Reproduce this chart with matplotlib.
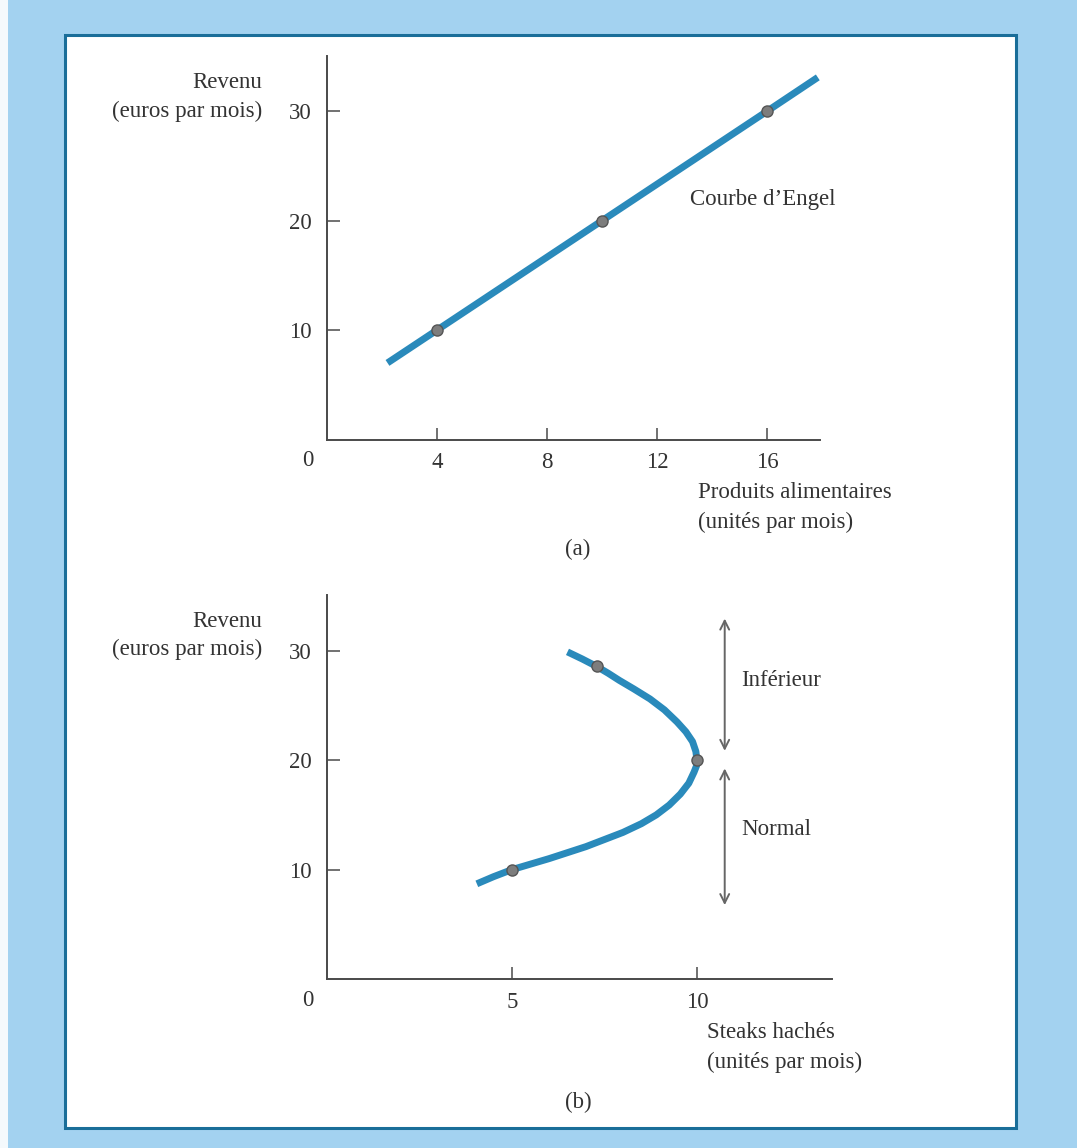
# Courbes d'Engel : (a) produits alimentaires, (b) steaks hachés
import matplotlib.pyplot as plt
from matplotlib.patches import Rectangle

# --- données ---
engel_x = [2.2, 4, 10, 16, 17.85]
engel_y = [7.0, 10, 20, 30, 33.1]
engel_pts_x = [4, 10, 16]
engel_pts_y = [10, 20, 30]

# courbe en C des steaks hachés
steak_x = [4.05, 4.5, 5.0, 5.5, 6.0, 6.5, 7.0, 7.5, 8.0, 8.5, 8.9, 9.25, 9.55,
           9.78, 9.92, 9.99, 10.0, 9.97, 9.88, 9.7, 9.46, 9.12, 8.73, 8.3, 7.9,
           7.6, 7.3, 6.9, 6.5]
steak_y = [8.7, 9.35, 10.0, 10.5, 11.0, 11.55, 12.1, 12.75, 13.4, 14.2, 15.0, 15.9,
           16.9, 17.9, 18.9, 19.5, 20.0, 20.8, 21.7, 22.6, 23.5, 24.6, 25.6, 26.5,
           27.3, 27.95, 28.55, 29.25, 29.9]
steak_pts_x = [5, 10, 7.3]
steak_pts_y = [10, 20, 28.6]

a_xticks = [4, 8, 12, 16]
b_xticks = [5, 10]
yticks = [10, 20, 30]

W, H = 1077, 1148
CURVE = '#2a8abb'
TXT = '#333333'
AXC = '#4a4a4a'

plt.rcParams['font.family'] = ['Liberation Serif', 'DejaVu Serif']
plt.rcParams['font.size'] = 16.5

fig = plt.figure(figsize=(W / 100, H / 100), dpi=100)
fig.patch.set_facecolor('#a3d2f0')
fig.patches.append(Rectangle((0, 0), 8 / W, 1, transform=fig.transFigure,
                             facecolor='#f4f9fc', edgecolor='none', zorder=-10))
fig.patches.append(Rectangle((65 / W, 1 - 1128 / H), (1016 - 65) / W, (1128 - 35) / H,
                             transform=fig.transFigure, facecolor='white',
                             edgecolor='#1a6e99', linewidth=2.2, zorder=-10))


def px(x, y):
    # position en pixels -> fraction de figure
    return x / W, 1 - y / H


def style_axes(ax, xmax, xticks):
    ax.set_facecolor('none')
    ax.set_xlim(0, xmax)
    ax.set_ylim(0, 35.1)
    for s in ['top', 'right']:
        ax.spines[s].set_visible(False)
    for s in ['left', 'bottom']:
        ax.spines[s].set_color(AXC)
        ax.spines[s].set_linewidth(1.4)
    ax.set_xticks(xticks)
    ax.set_yticks(yticks)
    ax.tick_params(axis='both', direction='in', length=9, width=1.1, color=AXC,
                   labelcolor=TXT, labelsize=16.5)
    ax.tick_params(axis='y', pad=11)
    ax.tick_params(axis='x', pad=9)
    ax.annotate('0', (0, 0), xytext=(-19, -21), textcoords='offset pixels',
                ha='center', va='center', color=TXT, fontsize=16.5,
                annotation_clip=False)


# --- (a) ---
ax1 = fig.add_axes([327 / W, 1 - 439.5 / H, 493 / W, 384 / H])
style_axes(ax1, 17.93, a_xticks)
ax1.plot(engel_x, engel_y, color=CURVE, lw=5, solid_capstyle='butt', zorder=3)
ax1.plot(engel_pts_x, engel_pts_y, 'o', ms=8, mfc='#7d7d7d', mec='#555555', mew=1, zorder=4)
ax1.text(690 / W, 1 - 200 / H, 'Courbe d’Engel', transform=fig.transFigure,
         ha='left', va='center', color=TXT)

fig.text(*px(262, 83), 'Revenu', ha='right', va='center', color=TXT)
fig.text(*px(262, 111), '(euros par mois)', ha='right', va='center', color=TXT)
fig.text(*px(698, 493), 'Produits alimentaires', ha='left', va='center', color=TXT)
fig.text(*px(698, 522), '(unités par mois)', ha='left', va='center', color=TXT)
fig.text(*px(578, 549), '(a)', ha='center', va='center', color=TXT)

# --- (b) ---
ax2 = fig.add_axes([327 / W, 1 - 979 / H, 505 / W, 384 / H])
style_axes(ax2, 13.65, b_xticks)
ax2.plot(steak_x, steak_y, color=CURVE, lw=5, solid_capstyle='butt',
         solid_joinstyle='round', zorder=3)
ax2.plot(steak_pts_x, steak_pts_y, 'o', ms=8, mfc='#7d7d7d', mec='#555555', mew=1, zorder=4)

arrow_x = 10.75
ax2.annotate('', xy=(arrow_x, 33.2), xytext=(arrow_x, 20.6),
             arrowprops=dict(arrowstyle='<->', color='#666666', lw=1.4, mutation_scale=16))
ax2.annotate('', xy=(arrow_x, 19.5), xytext=(arrow_x, 6.5),
             arrowprops=dict(arrowstyle='<->', color='#666666', lw=1.4, mutation_scale=16))
ax2.text(11.2, 27.3, 'Inférieur', ha='left', va='center', color=TXT, fontsize=16.5)
ax2.text(11.2, 13.7, 'Normal', ha='left', va='center', color=TXT, fontsize=16.5)

fig.text(*px(262, 621), 'Revenu', ha='right', va='center', color=TXT)
fig.text(*px(262, 649), '(euros par mois)', ha='right', va='center', color=TXT)
fig.text(*px(707, 1033), 'Steaks hachés', ha='left', va='center', color=TXT)
fig.text(*px(707, 1062), '(unités par mois)', ha='left', va='center', color=TXT)
fig.text(*px(578, 1102), '(b)', ha='center', va='center', color=TXT)

fig.savefig('out.png', dpi=100, facecolor=fig.get_facecolor())
